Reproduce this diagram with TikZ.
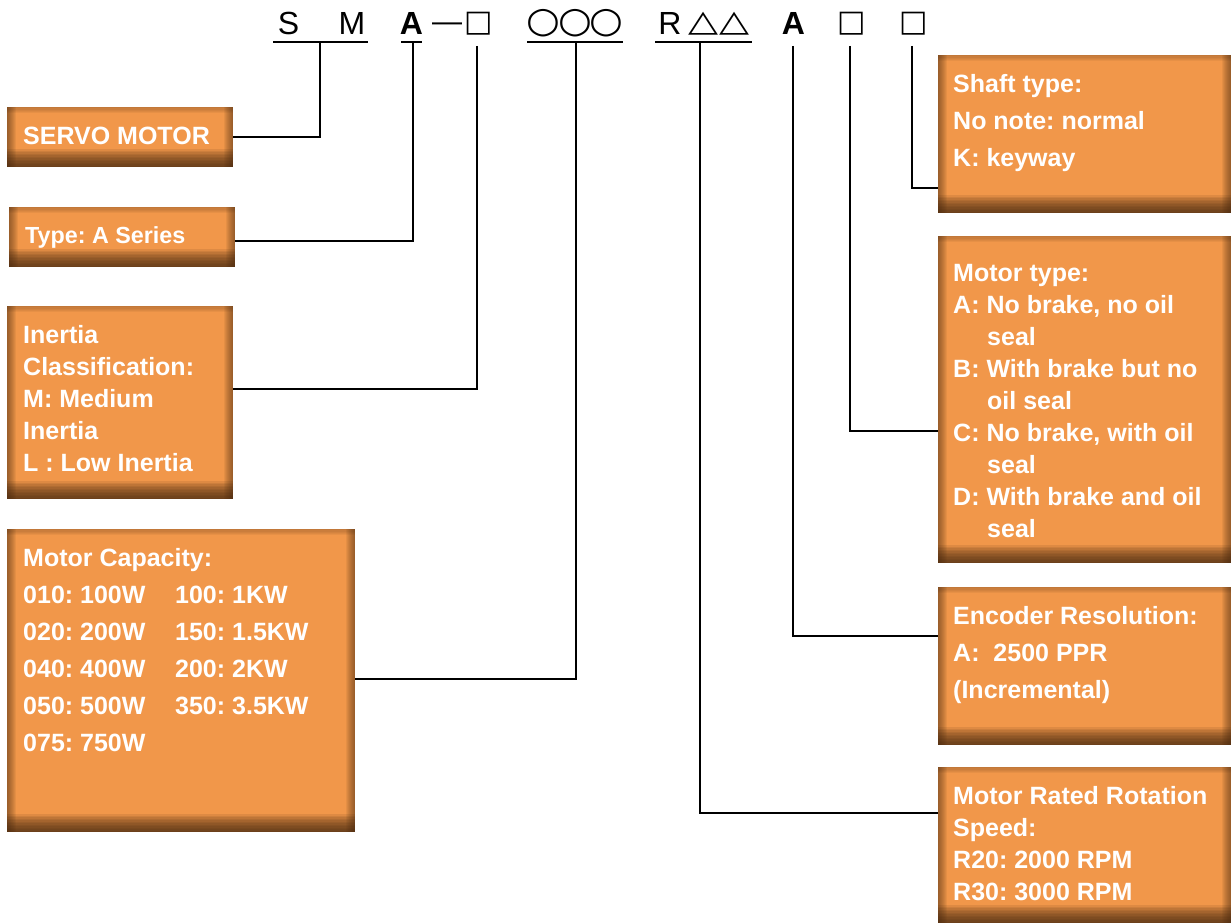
\documentclass[tikz,border=0pt]{standalone}
\usepackage{fontspec}
\usepackage{graphicx}
\setmainfont{Liberation Sans}
\newfontfamily\symf{DejaVu Sans}
\definecolor{boxor}{RGB}{241,151,74}
\definecolor{boxdk}{RGB}{70,40,15}
\newcommand{\tp}{\rule{0pt}{20pt}}
\newcommand{\ind}{\hspace*{34pt}}
\frenchspacing
\begin{document}
\begin{tikzpicture}[x=1pt,y=-1pt,
  obox/.style={fill=boxor, draw=none, inner sep=0pt, anchor=north west, path picture={
     \foreach \k in {1,...,9}{
       \fill[boxdk, opacity=0.07] (path picture bounding box.north west) rectangle ([xshift=\k]path picture bounding box.south west);
       \fill[boxdk, opacity=0.07] (path picture bounding box.north east) rectangle ([xshift=-\k]path picture bounding box.south east);
     }
     \foreach \k in {1,...,5}{
       \fill[boxdk, opacity=0.06] (path picture bounding box.north west) rectangle ([yshift=-1.2*\k]path picture bounding box.north east);
     }
     \foreach \k in {1,...,12}{
       \fill[boxdk, opacity=0.11] (path picture bounding box.south west) rectangle ([yshift=1.5*\k]path picture bounding box.south east);
     }
  }},
  btxt/.style={anchor=north west, inner sep=0pt, text=white, align=left, font=\bfseries\fontsize{25}{#1}\selectfont},
  hdr/.style={anchor=base, inner sep=0pt, font=\fontsize{32}{38}\selectfont},
  sym/.style={inner sep=0pt, font=\symf},
  conn/.style={line width=2.4pt, black},
]
\useasboundingbox (0,0) rectangle (1231,923);

% ---------- header ----------
\node[hdr] (hS) at (288.5,35) {S};
\node[hdr] (hM) at (352,35) {M};
\node[hdr, font=\bfseries\fontsize{32}{38}\selectfont] (hA1) at (411.5,35) {A};
\node[hdr, font=\fontsize{30}{36}\selectfont] (hDash) at (447,32) {—};
\node[sym] (hSq1) at (479,23.5) {\resizebox*{!}{23pt}{□}};
\node[sym] (hO1) at (543.5,23.5) {\scalebox{1.3}[1.2]{\resizebox*{!}{23pt}{○}}};
\node[sym] (hO2) at (575,23.5) {\scalebox{1.3}[1.2]{\resizebox*{!}{23pt}{○}}};
\node[sym] (hO3) at (606.5,23.5) {\scalebox{1.3}[1.2]{\resizebox*{!}{23pt}{○}}};
\node[hdr] (hR) at (670,35) {R};
\node[sym] (hT1) at (704,23.5) {\scalebox{1.3}[1]{\resizebox*{!}{23pt}{△}}};
\node[sym] (hT2) at (735,23.5) {\scalebox{1.3}[1]{\resizebox*{!}{23pt}{△}}};
\node[hdr, font=\bfseries\fontsize{32}{38}\selectfont] (hA2) at (793.5,35) {A};
\node[sym] (hSq2) at (851.5,23.5) {\resizebox*{!}{23pt}{□}};
\node[sym] (hSq3) at (913.5,23.5) {\resizebox*{!}{23pt}{□}};

% underlines
\draw[conn] (273,42) -- (368,42);
\draw[conn] (401,42) -- (422,42);
\draw[conn] (527,42) -- (623,42);
\draw[conn] (655,42) -- (752,42);

% junction points
\coordinate (jSM) at (320,42);
\coordinate (jA1) at (413,42);
\coordinate (jSq1) at (477,46);
\coordinate (jO) at (576,42);
\coordinate (jR) at (700,42);
\coordinate (jA2) at (793,46);
\coordinate (jSq2) at (850,46);
\coordinate (jSq3) at (912,46);

% ---------- boxes ----------
\node[obox, minimum width=226pt, minimum height=60pt] (servo) at (7,107) {};
\node[obox, minimum width=226pt, minimum height=60pt] (type) at (9,207) {};
\node[obox, minimum width=226pt, minimum height=193pt] (inertia) at (7,306) {};
\node[obox, minimum width=348pt, minimum height=303pt] (cap) at (7,529) {};
\node[obox, minimum width=293pt, minimum height=158pt] (shaft) at (938,55) {};
\node[obox, minimum width=293pt, minimum height=327pt] (mtype) at (938,236) {};
\node[obox, minimum width=293pt, minimum height=158pt] (enc) at (938,587) {};
\node[obox, minimum width=293pt, minimum height=156pt] (rot) at (938,767) {};

% ---------- texts ----------
\node[btxt=30] (servoT) at ([xshift=16pt,yshift=-17pt]servo.north west) {\tp SERVO MOTOR};
\node[btxt=30, font=\bfseries\fontsize{23.3}{30}\selectfont] (typeT) at ([xshift=16pt,yshift=-16pt]type.north west) {\tp Type: A Series};
\node[btxt=32] (inertiaT) at ([xshift=16pt,yshift=-17pt]inertia.north west) {\tp Inertia\\Classification:\\M: Medium\\Inertia\\L : Low Inertia};
\node[btxt=37] (capT) at ([xshift=16pt,yshift=-17pt]cap.north west) {\tp Motor Capacity:\\
\makebox[152pt][l]{010: 100W}100: 1KW\\
\makebox[152pt][l]{020: 200W}150: 1.5KW\\
\makebox[152pt][l]{040: 400W}200: 2KW\\
\makebox[152pt][l]{050: 500W}350: 3.5KW\\
075: 750W};
\node[btxt=37] (shaftT) at ([xshift=15pt,yshift=-17pt]shaft.north west) {\tp Shaft type:\\No note: normal\\K: keyway};
\node[btxt=32] (mtypeT) at ([xshift=15pt,yshift=-25pt]mtype.north west) {\tp Motor type:\\A: No brake, no oil\\\ind seal\\B: With brake but no\\\ind oil seal\\C: No brake, with oil\\\ind seal\\D: With brake and oil\\\ind seal};
\node[btxt=37] (encT) at ([xshift=15pt,yshift=-17pt]enc.north west) {\tp Encoder Resolution:\\A:\ \ 2500 PPR\\(Incremental)};
\node[btxt=32] (rotT) at ([xshift=15pt,yshift=-17pt]rot.north west) {\tp Motor Rated Rotation\\Speed:\\R20: 2000 RPM\\R30: 3000 RPM};

% ---------- connectors ----------
\draw[conn] (jSM) |- (servo.east);
\draw[conn] (jA1) |- ([yshift=-4pt]type.east);
\draw[conn] (jSq1) |- ([yshift=13.5pt]inertia.east);
\draw[conn] (jO) |- ([yshift=2pt]cap.east);
\draw[conn] (jSq3) |- ([yshift=-54pt]shaft.west);
\draw[conn] (jSq2) |- ([yshift=-31.5pt]mtype.west);
\draw[conn] (jA2) |- ([yshift=30pt]enc.west);
\draw[conn] (jR) |- ([yshift=32.5pt]rot.west);
\end{tikzpicture}
\end{document}
